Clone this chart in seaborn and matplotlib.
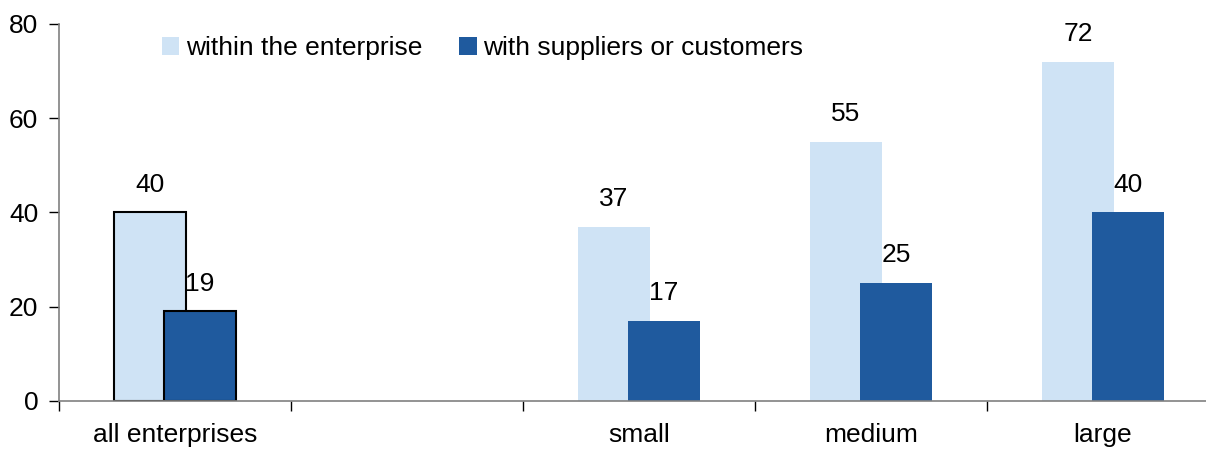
import numpy as np
import pandas as pd
import matplotlib
matplotlib.use("Agg")
import matplotlib.pyplot as plt
from matplotlib.patches import Patch
from matplotlib.ticker import FixedLocator
import seaborn as sns

# Share of enterprises using e-business software, by size class
categories = ["all enterprises", "", "small", "medium", "large"]
within_enterprise = [40, np.nan, 37, 55, 72]
with_partners = [19, np.nan, 17, 25, 40]
series_names = ["within the enterprise", "with suppliers or customers"]
y_ticks = [0, 20, 40, 60, 80]

LIGHT = "#CFE3F5"
DARK = "#1F5A9E"
AXIS_GREY = "#808080"

sns.set_style("white")
plt.rcParams["font.family"] = ["Liberation Sans", "DejaVu Sans"]
plt.rcParams["text.color"] = "black"
FS = 19

df = pd.DataFrame({"category": categories,
                   "within": within_enterprise,
                   "partners": with_partners})

fig = plt.figure(figsize=(12.06, 4.5), dpi=100)
ax = fig.add_axes([0.0489, 0.1089, 0.9619, 0.8378])

bar_w = 0.31
shift = 0.108

sns.barplot(data=df, x="category", y="within", order=categories,
            color=LIGHT, saturation=1, width=bar_w, errorbar=None, ax=ax)
n_light = len(ax.patches)
sns.barplot(data=df, x="category", y="partners", order=categories,
            color=DARK, saturation=1, width=bar_w, errorbar=None, ax=ax)

patches = list(ax.patches)
light_bars = patches[:n_light]
dark_bars = patches[n_light:]
for p in light_bars:
    p.set_x(p.get_x() - shift)
    p.set_edgecolor("none")
    p.set_zorder(2)
for p in dark_bars:
    p.set_x(p.get_x() + shift)
    p.set_edgecolor("none")
    p.set_zorder(3)

# Outline the bars of the "all enterprises" total
for p in (light_bars[0], dark_bars[0]):
    p.set_edgecolor("black")
    p.set_linewidth(1.5)

# Value labels above each bar
for bars in (light_bars, dark_bars):
    for p in bars:
        h = p.get_height()
        if np.isnan(h) or h == 0:
            continue
        ax.annotate(f"{h:.0f}", (p.get_x() + p.get_width() / 2, h),
                    xytext=(0, 15), textcoords="offset points",
                    ha="center", va="baseline", fontsize=FS, color="black",
                    zorder=5)

ax.set_xlim(-0.5, 4.5)
ax.set_ylim(0, 80)
ax.set_yticks(y_ticks)
ax.set_xlabel("")
ax.set_ylabel("")

# Tick marks at category boundaries, labels at centres
ax.xaxis.set_major_locator(FixedLocator(np.arange(-0.5, 5.0, 1.0)))
ax.xaxis.set_major_formatter(plt.NullFormatter())
ax.xaxis.set_minor_locator(FixedLocator(np.arange(len(categories))))
ax.set_xticklabels(categories, minor=True)
ax.tick_params(axis="x", which="major", direction="out", length=7,
               width=1, color="black", bottom=True)
ax.tick_params(axis="x", which="minor", length=0, pad=16,
               labelsize=FS, labelcolor="black", bottom=True)
ax.tick_params(axis="y", direction="out", length=7, width=1,
               color="black", pad=8, labelsize=FS, labelcolor="black",
               left=True)

for side in ("top", "right"):
    ax.spines[side].set_visible(False)
for side in ("left", "bottom"):
    ax.spines[side].set_color(AXIS_GREY)
    ax.spines[side].set_linewidth(1.2)
ax.spines["bottom"].set_zorder(4)

handles = [Patch(facecolor=LIGHT, edgecolor="none"),
           Patch(facecolor=DARK, edgecolor="none")]
leg = ax.legend(handles, series_names, ncol=2, frameon=False,
                fontsize=FS, loc="upper left",
                bbox_to_anchor=(0.08, 0.995),
                handlelength=0.65, handleheight=0.65,
                handletextpad=0.25, columnspacing=1.4,
                borderaxespad=0, labelcolor="black")

fig.savefig("out.png", dpi=100)
